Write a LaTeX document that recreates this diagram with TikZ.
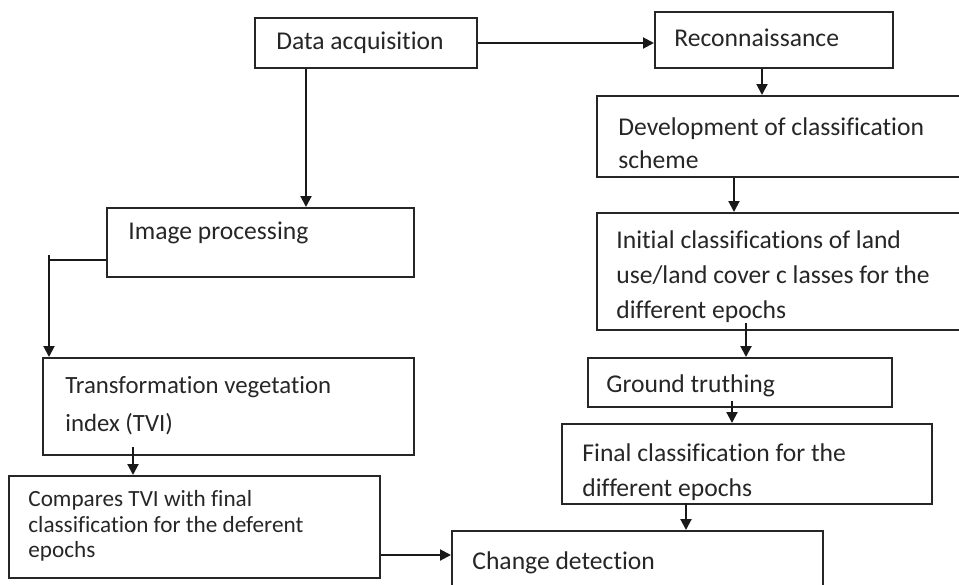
\documentclass[tikz,border=0pt]{standalone}
\usepackage{fontspec}
\setmainfont{Carlito}[Ligatures=NoCommon]
\usetikzlibrary{arrows.meta, calc}

\begin{document}
\begin{tikzpicture}[
    x=0.5pt, y=-0.5pt,
    box/.style 2 args={
      rectangle,
      draw=black!85,
      line width=1pt,
      minimum width=#1*0.5pt,
      minimum height=#2*0.5pt,
      inner sep=0pt
    },
    txt/.style={
      anchor=west,
      align=left,
      inner sep=0pt,
      text=black!85,
      font=\fontsize{12.8}{17.5}\selectfont
    },
    line/.style={-{Triangle[length=5.5pt, width=5.5pt]}, line width=1pt, draw=black!90}
  ]
    \useasboundingbox (0,0) rectangle (959,584);
    \clip (0,0) rectangle (959,584);

    % boxes
    \node[box={222}{50}] (acq) at (366,43) {};
    \node[box={238}{56}] (recon) at (774,40) {};
    \node[box={378}{81}] (dev) at (786,136.5) {};
    \node[box={307}{69}] (imgp) at (260.5,242.5) {};
    \node[box={378}{117}] (init) at (786,271.5) {};
    \node[box={371}{97}] (tvi) at (228.5,406.5) {};
    \node[box={304}{49}] (gt) at (740,382.5) {};
    \node[box={370}{80}] (fin) at (747,464) {};
    \node[box={371}{102}] (cmp) at (194.5,527) {};
    \node[box={371}{69}] (cd) at (637.5,565.5) {};

    % texts
    \node[txt] (acqtxt) at (276,43) {Data acquisition};
    \node[txt] (recontxt) at (674,38) {Reconnaissance};
    \node[txt, font=\fontsize{12.8}{16.5}\selectfont] (devtxt) at (618,143.5)
      {Development of classification\\scheme};
    \node[txt] (imgptxt) at (128,233) {Image processing};
    \node[txt] (inittxt) at (616,277)
      {Initial classifications of land\\use/land cover c lasses for the\\different epochs};
    \node[txt, font=\fontsize{12.4}{19}\selectfont] (tvitxt) at (65,406)
      {Transformation vegetation\\index (TVI)};
    \node[txt] (gttxt) at (606,386) {Ground truthing};
    \node[txt] (fintxt) at (582,472.5) {Final classification for the\\different epochs};
    \node[txt, font=\fontsize{11.6}{12.8}\selectfont] (cmptxt) at (28,526)
      {Compares TVI with final\\classification for the deferent\\epochs};
    \node[txt] (cdtxt) at (472,563) {Change detection};

    % connectors
    \coordinate (acqout) at ($(acq.south west)+(52,0)$);
    \coordinate (recout) at ($(recon.south west)+(108,0)$);
    \coordinate (devout) at ($(dev.south west)+(138,0)$);
    \coordinate (initout) at ($(init.south west)+(150,-8)$);
    \coordinate (gtout) at ($(gt.south west)+(145,-7)$);
    \coordinate (finout) at ($(fin.south west)+(125,-2)$);
    \coordinate (imgout) at ($(imgp.west)+(0,17.5)$);
    \coordinate (tviin) at ($(tvi.north west)+(7,0)$);
    \coordinate (tviout) at ($(tvi.south west)+(91,-9)$);
    \coordinate (cmpout) at ($(cmp.east)+(0,28)$);

    \draw[line] (acq.east) -- (acq.east -| recon.west);
    \draw[line] (acqout) -- (acqout |- imgp.north);
    \draw[line] (recout) -- (recout |- dev.north);
    \draw[line] (devout) -- (devout |- init.north);
    \draw[line] (initout) -- (initout |- gt.north);
    \draw[line] (gtout) -- (gtout |- fin.north);
    \draw[line] (finout) -- (finout |- cd.north);
    \draw[line] (imgout) -| (tviin);
    \draw[line width=1pt, draw=black!90] (tviin |- imgout) -- ++(0,-5);
    \draw[line] (tviout) -- (tviout |- cmp.north);
    \draw[line] (cmpout) -- (cmpout -| cd.west);
  \end{tikzpicture}
\end{document}
